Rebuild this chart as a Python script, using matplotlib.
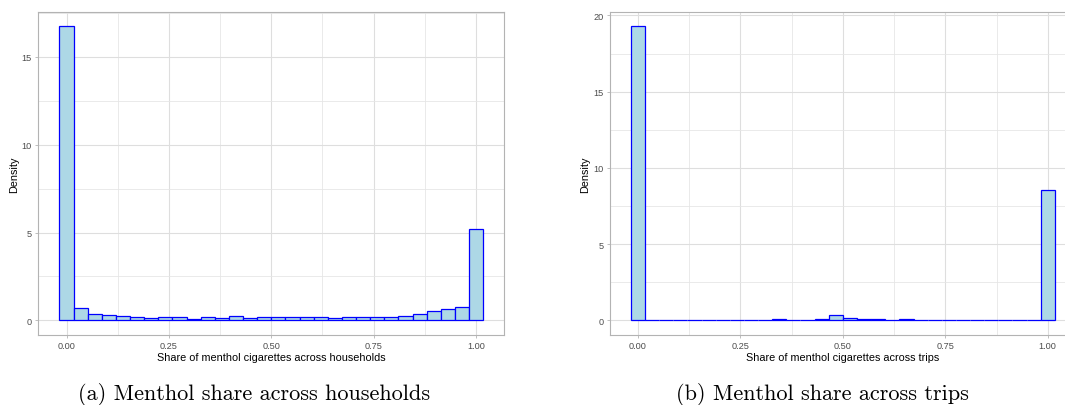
import numpy as np
import matplotlib
matplotlib.use("Agg")
import matplotlib.pyplot as plt
from matplotlib.ticker import MultipleLocator

# Histogram densities (30 bins over [0, 1], bins centred on 0 and 1)
households_density = [16.74, 0.68, 0.36, 0.30, 0.25, 0.19, 0.13, 0.19, 0.19, 0.08,
                      0.19, 0.13, 0.25, 0.13, 0.19, 0.21, 0.21, 0.16, 0.21, 0.14,
                      0.17, 0.17, 0.19, 0.16, 0.27, 0.35, 0.51, 0.65, 0.76, 5.20]
trips_density = [19.28, 0.01, 0.01, 0.01, 0.01, 0.01, 0.02, 0.02, 0.03, 0.03,
                 0.08, 0.03, 0.04, 0.08, 0.36, 0.17, 0.08, 0.06, 0.04, 0.08,
                 0.04, 0.03, 0.02, 0.01, 0.01, 0.01, 0.01, 0.01, 0.01, 8.57]
n_bins = 30
x_ticks = [0.0, 0.25, 0.5, 0.75, 1.0]
x_labels = ["0.00", "0.25", "0.50", "0.75", "1.00"]
x_titles = ["Share of menthol cigarettes across households",
            "Share of menthol cigarettes across trips"]
captions = ["(a) Menthol share across households", "(b) Menthol share across trips"]

W, H = 1065, 406
fig = plt.figure(figsize=(W / 100, H / 100), dpi=100)
plt.rcParams['font.family'] = ['Liberation Sans', 'DejaVu Sans']


def px_axes(x0, y0, x1, y1):
    # pixel box (top-left origin) -> figure fraction
    return fig.add_axes([x0 / W, 1 - y1 / H, (x1 - x0) / W, (y1 - y0) / H])


def draw_hist(ax, dens, xtitle, y_major):
    width = 1 / (n_bins - 1)
    centers = np.linspace(0, 1, n_bins)
    ax.bar(centers, dens, width=width, align='center', color='#ADD8E6',
           edgecolor='blue', linewidth=0.9, zorder=3)
    lo, hi = -width / 2, 1 + width / 2
    span = hi - lo
    ax.set_xlim(lo - 0.05 * span, hi + 0.05 * span)
    top = max(dens)
    ax.set_ylim(-0.05 * top, 1.05 * top)
    ax.set_xticks(x_ticks)
    ax.set_xticklabels(x_labels)
    ax.xaxis.set_minor_locator(MultipleLocator(0.125))
    ax.yaxis.set_major_locator(MultipleLocator(y_major))
    ax.yaxis.set_minor_locator(MultipleLocator(y_major / 2))
    ax.grid(which='major', color='#DEDEDE', linewidth=0.8, zorder=0)
    ax.grid(which='minor', color='#E6E6E6', linewidth=0.6, zorder=0)
    ax.tick_params(which='major', length=2.5, width=0.6, color='#B3B3B3',
                   labelsize=6.6, labelcolor='#4D4D4D', pad=2)
    ax.tick_params(which='minor', length=0)
    for s in ax.spines.values():
        s.set_color('#B3B3B3')
        s.set_linewidth(0.8)
    ax.set_xlabel(xtitle, fontsize=7.85, color='black', labelpad=1.5)
    ax.set_ylabel('Density', fontsize=7.85, color='black', labelpad=2)
    ax.set_axisbelow(True)


ax1 = px_axes(38.3, 12.7, 504.3, 336.0)
draw_hist(ax1, households_density, x_titles[0], 5)
ax2 = px_axes(609.7, 12.7, 1076.0, 336.0)
draw_hist(ax2, trips_density, x_titles[1], 5)

fig.text(254 / W, 1 - 395 / H, captions[0], fontsize=16, family='cmr10',
         ha='center', va='center')
fig.text(822 / W, 1 - 395 / H, captions[1], fontsize=16, family='cmr10',
         ha='center', va='center')

fig.savefig('out.png', dpi=100)
